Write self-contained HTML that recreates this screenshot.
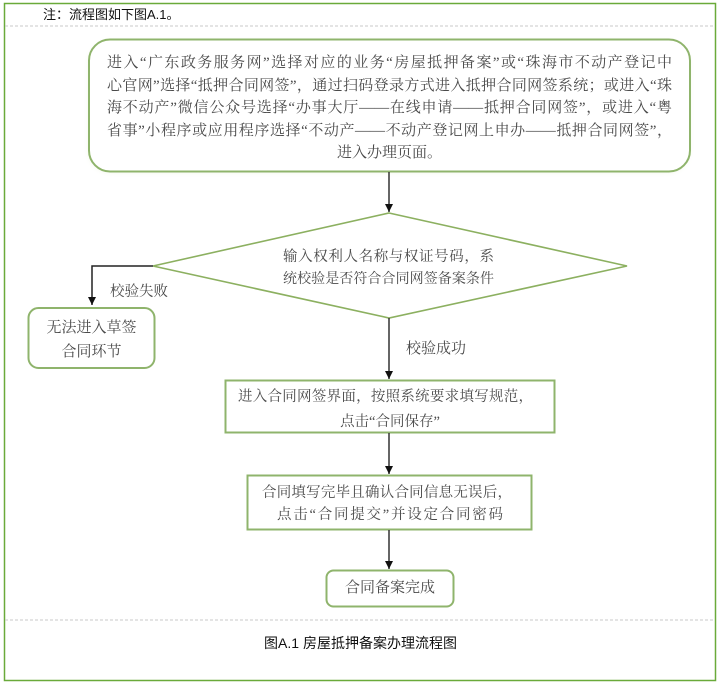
<!DOCTYPE html>
<html>
<head>
<meta charset="utf-8">
<style>
  html,body{margin:0;padding:0;background:#fff;}
  body{width:721px;height:687px;position:relative;overflow:hidden;}
  .t{position:absolute;font-family:"Liberation Serif","Noto Serif CJK SC",serif;color:#4a4a4a;white-space:nowrap;}
  .j{text-align:justify;text-align-last:justify;}
  .c{text-align:center;}
  .note{position:absolute;left:43px;top:6px;font-family:"Liberation Sans","Noto Sans CJK SC",sans-serif;font-size:13px;color:#111;line-height:18px;}
  .cap{position:absolute;left:0;width:721px;top:633px;text-align:center;font-family:"Liberation Sans","Noto Sans CJK SC",sans-serif;font-size:14px;color:#111;line-height:20px;}
</style>
</head>
<body>
<svg width="721" height="687" style="position:absolute;left:0;top:0">
  <defs>
    <marker id="ah" markerWidth="10" markerHeight="10" refX="8" refY="4" orient="auto" markerUnits="userSpaceOnUse">
      <path d="M0,0 L8,4 L0,8 Z" fill="#111"/>
    </marker>
    <filter id="glow" x="-10%" y="-10%" width="120%" height="130%">
      <feGaussianBlur stdDeviation="2.5"/>
    </filter>
  </defs>
  <!-- outer frame -->
  <rect x="4.5" y="3.5" width="711" height="677" fill="none" stroke="#6aaa3a" stroke-width="1.5"/>
  <line x1="5" y1="26" x2="715" y2="26" stroke="#c8c8c8" stroke-width="1" stroke-dasharray="3,2"/>
  <line x1="5" y1="620" x2="715" y2="620" stroke="#c8c8c8" stroke-width="1" stroke-dasharray="3,2"/>

  <!-- main rounded box -->
  <rect x="88" y="41" width="602" height="132" rx="22" fill="#f4f8ec" filter="url(#glow)" opacity="0.8"/>
  <rect x="89" y="39.5" width="601" height="132" rx="21" fill="#fff" stroke="#8fb46c" stroke-width="2"/>

  <!-- arrow main -> diamond -->
  <line x1="389" y1="172" x2="389" y2="212" stroke="#333" stroke-width="1.5" marker-end="url(#ah)"/>

  <!-- diamond -->
  <polygon points="389,213 627,266 389,318 153,266" fill="#fff" stroke="#8cb060" stroke-width="1.6"/>

  <!-- fail branch -->
  <polyline points="153,266 92,266 92,305" fill="none" stroke="#222" stroke-width="1.5" marker-end="url(#ah)"/>

  <!-- left rounded box -->
  <rect x="28.5" y="308" width="126" height="60" rx="10" fill="#fff" stroke="#8fb46c" stroke-width="2"/>

  <!-- success arrow -->
  <line x1="389" y1="318" x2="389" y2="379" stroke="#333" stroke-width="1.5" marker-end="url(#ah)"/>

  <!-- box 3 -->
  <rect x="225.5" y="380.5" width="329" height="52" fill="#fff" stroke="#8fb46c" stroke-width="2"/>
  <line x1="389" y1="433" x2="389" y2="474" stroke="#333" stroke-width="1.5" marker-end="url(#ah)"/>

  <!-- box 4 -->
  <rect x="247.5" y="475.5" width="284" height="54" fill="#fff" stroke="#8fb46c" stroke-width="2"/>
  <line x1="389" y1="530" x2="389" y2="569" stroke="#333" stroke-width="1.5" marker-end="url(#ah)"/>

  <!-- box 5 -->
  <rect x="326.5" y="570.5" width="127" height="36" rx="7" fill="#fff" stroke="#8fb46c" stroke-width="2"/>
</svg>

<div class="note">注：流程图如下图A.1。</div>

<!-- main box text -->
<div class="t j" style="left:107px;top:52px;width:565px;font-size:15px;line-height:22.5px;">进入“广东政务服务网”选择对应的业务“房屋抵押备案”或“珠海市不动产登记中</div>
<div class="t j" style="left:107px;top:74.5px;width:565px;font-size:15px;line-height:22.5px;">心官网”选择“抵押合同网签”，通过扫码登录方式进入抵押合同网签系统；或进入“珠</div>
<div class="t j" style="left:107px;top:97px;width:565px;font-size:15px;line-height:22.5px;">海不动产”微信公众号选择“办事大厅——在线申请——抵押合同网签”，或进入“粤</div>
<div class="t j" style="left:107px;top:119.5px;width:565px;font-size:15px;line-height:22.5px;">省事”小程序或应用程序选择“不动产——不动产登记网上申办——抵押合同网签”，</div>
<div class="t c" style="left:89px;top:142px;width:601px;font-size:15px;line-height:22.5px;">进入办理页面。</div>

<!-- diamond text -->
<div class="t j" style="left:283px;top:246px;width:211px;font-size:14.5px;line-height:22px;">输入权利人名称与权证号码，系</div>
<div class="t j" style="left:283px;top:269px;width:211px;font-size:14px;line-height:22px;">统校验是否符合合同网签备案条件</div>

<!-- labels -->
<div class="t" style="left:110px;top:281px;font-size:14.5px;line-height:22px;">校验失败</div>
<div class="t" style="left:406px;top:338px;font-size:15px;line-height:22px;">校验成功</div>

<!-- left box text -->
<div class="t c" style="left:28px;top:317px;width:127px;font-size:15px;line-height:22px;">无法进入草签</div>
<div class="t c" style="left:28px;top:341px;width:127px;font-size:15px;line-height:22px;">合同环节</div>

<!-- box 3 text -->
<div class="t j" style="left:238px;top:386px;width:295px;font-size:14.5px;line-height:22px;">进入合同网签界面，按照系统要求填写规范，</div>
<div class="t c" style="left:225px;top:411px;width:330px;font-size:14.5px;line-height:22px;">点击“合同保存”</div>

<!-- box 4 text -->
<div class="t j" style="left:262px;top:482px;width:250px;font-size:14.5px;line-height:22px;">合同填写完毕且确认合同信息无误后，</div>
<div class="t j" style="left:277px;top:504px;width:226px;font-size:14.5px;line-height:22px;">点击“合同提交”并设定合同密码</div>

<!-- box 5 text -->
<div class="t c" style="left:326px;top:577px;width:128px;font-size:15px;line-height:22px;">合同备案完成</div>

<div class="cap">图A.1 房屋抵押备案办理流程图</div>
</body>
</html>
